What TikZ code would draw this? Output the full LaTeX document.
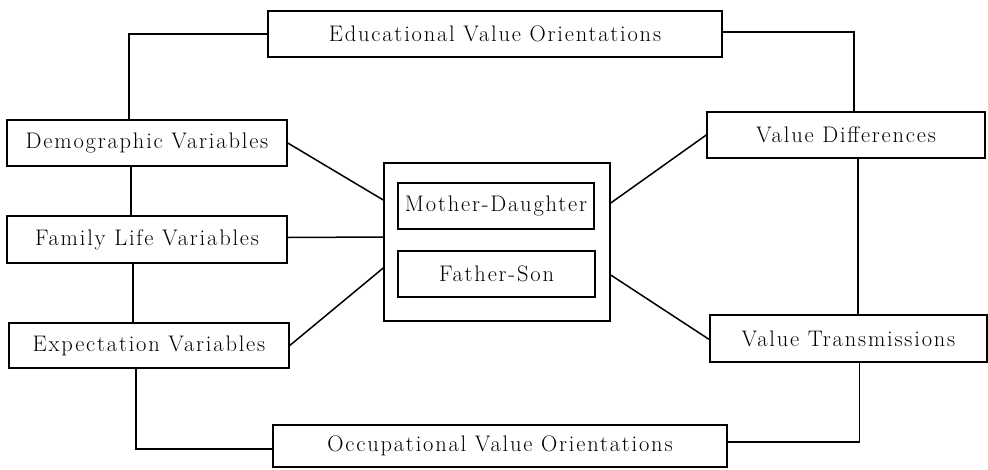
\documentclass[tikz,border=0pt]{standalone}
\usepackage{fontspec}
\newfontfamily\boxfont{Latin Modern Roman}[LetterSpace=8]
\usepackage{tikz}
\usetikzlibrary{positioning,calc}

\tikzset{
    varbox/.style={draw,rectangle,line width=1.5pt,inner sep=0pt,
        font=\boxfont\fontsize{22.5}{26}\selectfont},
    link/.style={line width=1.5pt}
}

\begin{document}
\begin{tikzpicture}[x=1pt,y=-1pt]
    \useasboundingbox (0,0) rectangle (988,469);
    \path
        (495,34)    node [varbox,minimum width=454,minimum height=46] (edu) {Educational Value Orientations}
        (147,143)   node [varbox,minimum width=280,minimum height=46] (demo) {Demographic Variables}
        (147,239.5) node [varbox,minimum width=280,minimum height=47] (fam) {Family Life Variables}
        (149,345.5) node [varbox,minimum width=280,minimum height=45] (expect) {Expectation Variables}
        (500,446)   node [varbox,minimum width=454,minimum height=42] (occ) {Occupational Value Orientations}
        (497,242)   node [varbox,minimum width=226,minimum height=158] (pair) {}
        (496,206)   node [varbox,minimum width=196,minimum height=46] (md) {Mother-Daughter}
        (496.5,274) node [varbox,minimum width=197,minimum height=46] (fs) {Father-Son}
        (846,135)   node [varbox,minimum width=278,minimum height=46] (vdiff) {Value Differences}
        (848.5,338.5) node [varbox,minimum width=277,minimum height=47] (vtrans) {Value Transmissions}
        ;
    % left column
    \draw [link] (edu.west) -| ([xshift=-18pt]demo.north);
    \draw [link] ([xshift=-16pt]demo.south) -- ([xshift=-16pt]demo.south |- fam.north);
    \draw [link] ([xshift=-14pt]fam.south) -- ([xshift=-14pt]fam.south |- expect.north);
    \draw [link] ([xshift=-13pt]expect.south) |- ([yshift=-3pt]occ.west);
    \draw [link] (demo.east) -- ([yshift=42pt]pair.west);
    \draw [link] ([yshift=2pt]fam.east) -- ([yshift=5pt]pair.west);
    \draw [link] (expect.east) -- ([yshift=-26pt]pair.west);
    % right column
    \draw [link] ([yshift=2pt]edu.east) -| ([xshift=8pt]vdiff.north);
    \draw [link] ([xshift=12pt]vdiff.south) -- ([xshift=12pt]vdiff.south |- vtrans.north);
    \draw [link] ([xshift=11pt]vtrans.south) |- ([yshift=4pt]occ.east);
    \draw [link] ([yshift=39pt]pair.east) -- (vdiff.west);
    \draw [link] ([yshift=-33pt]pair.east) -- ([yshift=-1pt]vtrans.west);
\end{tikzpicture}
\end{document}
